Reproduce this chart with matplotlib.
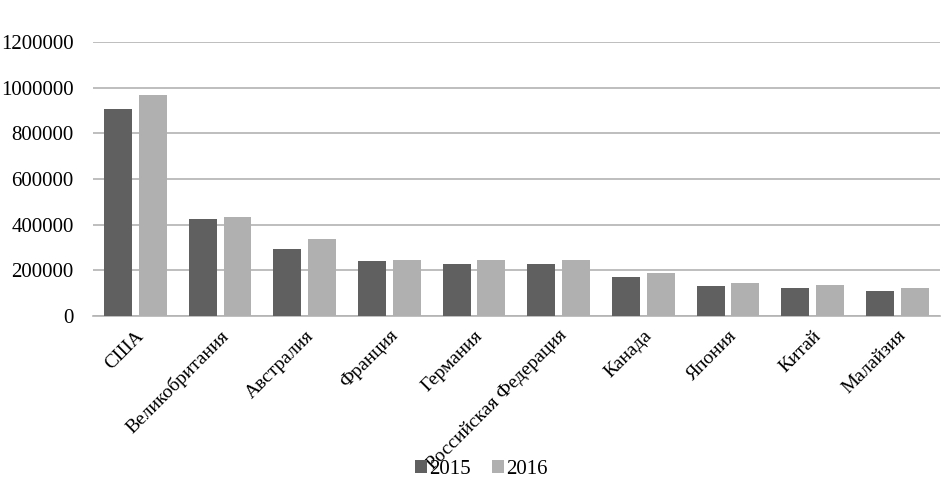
import matplotlib
matplotlib.use("Agg")
import matplotlib.pyplot as plt
import numpy as np

categories = ["США", "Великобритания", "Австралия", "Франция", "Германия",
              "Российская Федерация", "Канада", "Япония", "Китай", "Малайзия"]
values_2015 = [908000, 427000, 292000, 241000, 228000, 228000, 171000, 130000, 123000, 108000]
values_2016 = [969000, 432000, 337000, 245000, 245000, 245000, 188000, 143000, 136000, 123000]
series_labels = ["2015", "2016"]
yticks = [0, 200000, 400000, 600000, 800000, 1000000, 1200000]

plt.rcParams['font.family'] = ['Liberation Serif', 'DejaVu Serif']

fig = plt.figure(figsize=(9.51, 4.87), dpi=100)
ax = fig.add_axes([0.098, 0.351, 0.890, 0.563])

x = np.arange(len(categories))
w = 0.33
off = 0.205
ax.bar(x - off, values_2015, w, color="#606060", label=series_labels[0], zorder=3)
ax.bar(x + off, values_2016, w, color="#b0b0b0", label=series_labels[1], zorder=3)

ax.set_xlim(-0.5, len(categories) - 0.5)
ax.set_ylim(0, 1200000)
ax.set_yticks(yticks)
ax.set_yticklabels([str(v) for v in yticks], fontsize=15)
ax.yaxis.grid(True, color="#b3b3b3", linewidth=1.2, zorder=0)
ax.set_axisbelow(True)
for s in ["left", "right", "top"]:
    ax.spines[s].set_visible(False)
ax.spines["bottom"].set_color("#b3b3b3")
ax.spines["bottom"].set_linewidth(1.2)
ax.tick_params(axis="both", length=0)
ax.tick_params(axis="y", pad=14)

ax.set_xticks(x)
ax.set_xticklabels(categories, rotation=45, ha="right", rotation_mode="anchor", fontsize=14)
ax.tick_params(axis="x", pad=8)

fig.legend(loc="center", bbox_to_anchor=(0.506, 0.036), ncol=2, frameon=False,
           fontsize=15, handlelength=0.6, handleheight=0.6, handletextpad=0.1,
           columnspacing=1.0)

fig.savefig("out.png", dpi=100)
